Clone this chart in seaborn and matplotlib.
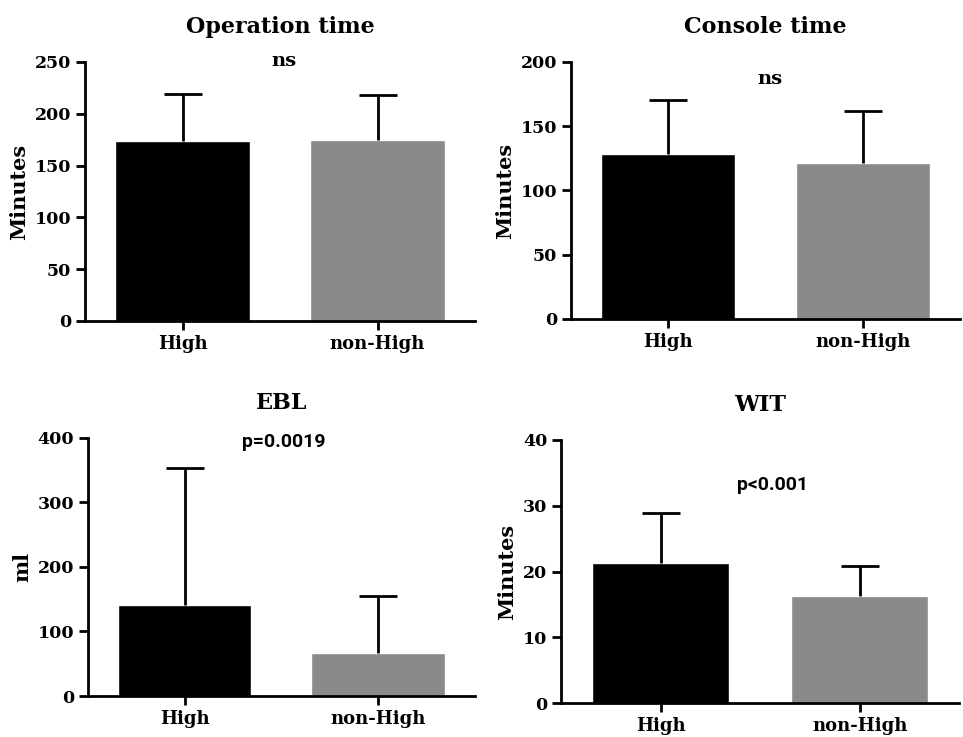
import numpy as np
import seaborn as sns
import matplotlib.pyplot as plt

# group labels
groups = ["High", "non-High"]

# panel data (mean and upper SD)
titles = ["Operation time", "Console time", "EBL", "WIT"]
ylabels = ["Minutes", "Minutes", "ml", "Minutes"]
op_mean = [173.5, 174.4]
op_sd = [45.9, 43.4]
con_mean = [128.6, 121.6]
con_sd = [41.8, 40.3]
ebl_mean = [140.4, 67.0]
ebl_sd = [213.1, 88.3]
wit_mean = [21.3, 16.3]
wit_sd = [7.6, 4.6]
stats_txt = ["ns", "ns", "p=0.0019", "p<0.001"]
yticks = [[0, 50, 100, 150, 200, 250], [0, 50, 100, 150, 200],
          [0, 100, 200, 300, 400], [0, 10, 20, 30, 40]]

means = [op_mean, con_mean, ebl_mean, wit_mean]
sds = [op_sd, con_sd, ebl_sd, wit_sd]

sns.set_style("ticks")
plt.rcParams['font.family'] = ['DejaVu Serif']
plt.rcParams['font.weight'] = 'bold'
for k in ['text.color', 'axes.labelcolor', 'xtick.color', 'ytick.color', 'axes.edgecolor']:
    plt.rcParams[k] = 'black'

fig = plt.figure(figsize=(9.63, 7.37), dpi=100)
# axes rectangles [left, bottom, width, height]
rects = [[0.0883, 0.5645, 0.405, 0.3514],
         [0.593, 0.5672, 0.404, 0.3487],
         [0.0914, 0.0556, 0.4016, 0.3504],
         [0.5826, 0.0457, 0.4134, 0.3573]]
txt_pos = [(0.52, 251), (0.52, 187), (0.51, 393), (0.56, 33.2)]
colors = ["black", "#8a8a8a"]

for i in range(4):
    ax = fig.add_axes(rects[i])
    sns.barplot(x=groups, y=means[i], hue=groups, palette=colors, width=0.69,
                errorbar=None, legend=False, saturation=1, ax=ax, zorder=1)
    eb = ax.errorbar(x=[0, 1], y=means[i], yerr=[[0, 0], sds[i]], fmt='none',
                     ecolor='black', elinewidth=2, capsize=13.5, capthick=2, zorder=3)
    # only the upper cap is shown
    eb[1][0].set_visible(False)
    ax.set_xlim(-0.5, 1.5)
    ax.set_ylim(0, yticks[i][-1])
    ax.set_yticks(yticks[i])
    ax.set_title(titles[i], fontsize=16, fontweight='bold', pad=21)
    ax.set_ylabel(ylabels[i], fontsize=15, fontweight='bold')
    ax.set_xlabel("")
    sns.despine(ax=ax)
    for s in ["left", "bottom"]:
        ax.spines[s].set_linewidth(2)
    ax.tick_params(axis='y', width=2, length=6.5, labelsize=12.5)
    ax.tick_params(axis='x', width=2, length=6.5, labelsize=13)
    for lab in ax.get_xticklabels() + ax.get_yticklabels():
        lab.set_fontweight('bold')
    fam = 'DejaVu Serif' if stats_txt[i] == 'ns' else 'Roboto'
    ax.text(txt_pos[i][0], txt_pos[i][1], stats_txt[i], ha='center', va='center',
            fontsize=14, fontweight='bold', family=fam)

fig.savefig("out.png", dpi=100)
